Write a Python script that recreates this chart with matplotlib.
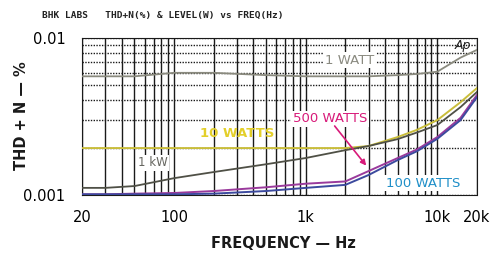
import numpy as np
import matplotlib
matplotlib.use("Agg")
import matplotlib.pyplot as plt
from matplotlib.ticker import FixedLocator, NullFormatter

# frequency points (Hz)
freq = [20, 30, 50, 100, 200, 500, 1000, 2000, 3000, 5000, 7000, 10000, 15000, 20000]

# THD+N (%) per output level
thd_1w = [0.0057, 0.0057, 0.0057, 0.0060, 0.0060, 0.0058, 0.0057, 0.0057, 0.0057,
          0.0058, 0.0059, 0.0061, 0.0075, 0.0084]
thd_10w = [0.00199, 0.00199, 0.00199, 0.00199, 0.00199, 0.00199, 0.00199, 0.00199,
           0.00205, 0.00234, 0.0026, 0.0030, 0.0039, 0.0048]
thd_1kw = [0.00111, 0.00111, 0.00114, 0.00128, 0.00140, 0.00157, 0.00172, 0.00193,
           0.00205, 0.00227, 0.0025, 0.00279, 0.00363, 0.00453]
thd_500w = [0.00101, 0.00101, 0.00102, 0.00103, 0.00106, 0.00112, 0.00118, 0.00122,
            0.00142, 0.00172, 0.00195, 0.00234, 0.0031, 0.00434]
thd_100w = [0.00101, 0.00101, 0.00101, 0.00101, 0.00102, 0.00106, 0.00111, 0.00116,
            0.00134, 0.00167, 0.0019, 0.00228, 0.0030, 0.0042]

xticks = [20, 100, 1000, 10000, 20000]
xtick_labels = ["20", "100", "1k", "10k", "20k"]
yticks = [0.001, 0.01]
ytick_labels = ["0.001", "0.01"]

fig = plt.figure(figsize=(4.95, 2.56), dpi=100)
ax = fig.add_axes([0.1657, 0.2383, 0.7979, 0.6133])
ax.set_xscale("log")
ax.set_yscale("log")
ax.set_xlim(20, 20000)
ax.set_ylim(0.001, 0.01)

# grid: solid verticals, dotted horizontals
vgrid = [m * 10 ** e for e in range(1, 5) for m in range(1, 10)]
vgrid = [v for v in vgrid if 20 <= v <= 20000]
ax.xaxis.set_minor_locator(FixedLocator(vgrid))
ax.xaxis.set_minor_formatter(NullFormatter())
ax.yaxis.set_minor_locator(FixedLocator([k / 1000 for k in range(2, 10)]))
ax.yaxis.set_minor_formatter(NullFormatter())
ax.grid(True, which="both", axis="x", color="#1a1a1a", lw=1.0, ls="-")
ax.grid(True, which="both", axis="y", color="#1a1a1a", lw=1.0, ls=(0, (1, 1)))

ax.set_xticks(xticks)
ax.set_xticklabels(xtick_labels)
ax.set_yticks(yticks)
ax.set_yticklabels(ytick_labels)
ax.tick_params(which="both", length=0, labelsize=10.5)
ax.tick_params(axis="x", pad=11)
ax.tick_params(axis="y", pad=12)

for s in ["top", "bottom"]:
    ax.spines[s].set_linestyle((0, (1, 1)))
for s in ax.spines.values():
    s.set_color("#1a1a1a")

ax.plot(freq, thd_1w, color="#8a8a7e", lw=1.3, zorder=3)
ax.plot(freq, thd_10w, color="#c9bd3a", lw=1.4, zorder=3)
ax.plot(freq, thd_1kw, color="#4f5046", lw=1.3, zorder=3)
ax.plot(freq, thd_500w, color="#9a3a9c", lw=1.4, zorder=3)
ax.plot(freq, thd_100w, color="#3c4a9e", lw=1.4, zorder=3)

box = dict(facecolor="white", edgecolor="none", pad=1.0)
ax.text(2170, 0.00724, "1 WATT", color="#8a8a80", fontsize=9.5, ha="center",
        va="center", bbox=box, zorder=5)
ax.text(300, 0.00245, "10 WATTS", color="#e3cf2a", fontsize=9.5, fontweight="bold",
        ha="center", va="center", zorder=5)
ax.text(69, 0.0016, "1 kW", color="#666660", fontsize=8.5, ha="center",
        va="center", bbox=box, zorder=5)
ax.text(1528, 0.00305, "500 WATTS", color="#d81b7a", fontsize=9.5, ha="center",
        va="center", bbox=box, zorder=5)
ax.text(7770, 0.00119, "100 WATTS", color="#1f8fc8", fontsize=9.5, ha="center",
        va="center", bbox=box, zorder=5)
ax.annotate("", xy=(2970, 0.00149), xytext=(1610, 0.00284),
            arrowprops=dict(arrowstyle="-|>", color="#d81b7a", lw=1.2,
                            mutation_scale=8), zorder=5)
ax.text(15640, 0.0090, "Ap", color="#222222", fontsize=9, style="italic",
        ha="center", va="center", zorder=5)

fig.text(0.085, 0.94, "BHK LABS   THD+N(%) & LEVEL(W) vs FREQ(Hz)",
         fontsize=6.8, fontweight="bold", family="DejaVu Sans Mono",
         va="center", ha="left", color="#222222")
fig.text(0.044, 0.55, "THD + N — %", rotation=90, fontsize=10.5,
         fontweight="bold", va="center", ha="center", color="#1a1a1a")
fig.text(0.572, 0.05, "FREQUENCY — Hz", fontsize=10.5, fontweight="bold",
         va="center", ha="center", color="#1a1a1a")

fig.savefig("out.png", dpi=100)
